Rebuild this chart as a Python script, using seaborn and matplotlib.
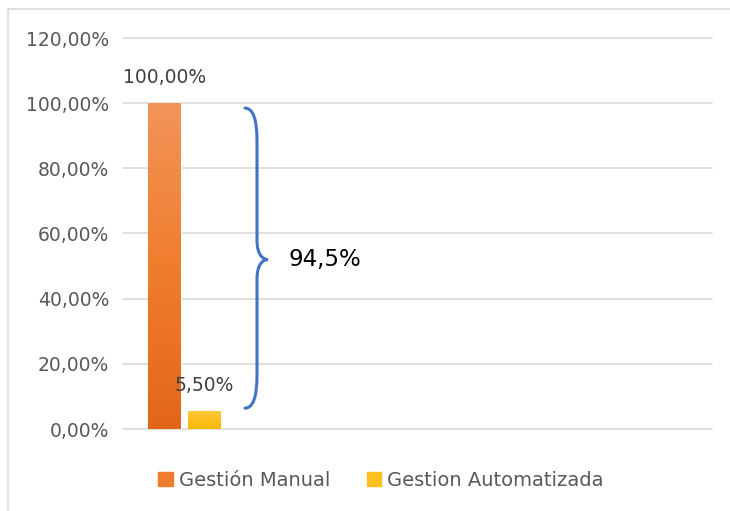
import numpy as np
import pandas as pd
import matplotlib
matplotlib.use("Agg")
import matplotlib.pyplot as plt
from matplotlib.path import Path
from matplotlib.patches import PathPatch
from matplotlib.lines import Line2D
from matplotlib.colors import LinearSegmentedColormap
import seaborn as sns

# ---- data ----
categories = ["Resultado"]
series = ["Gestión Manual", "Gestion Automatizada"]
values = [100.0, 5.5]
value_labels = ["100,00%", "5,50%"]
y_ticks = [0, 20, 40, 60, 80, 100, 120]
y_tick_labels = ["0,00%", "20,00%", "40,00%", "60,00%", "80,00%", "100,00%", "120,00%"]
brace_label = "94,5%"

df = pd.DataFrame({"cat": categories * len(series), "serie": series, "valor": values})

sns.set_theme(style="white")
plt.rcParams["font.family"] = ["DejaVu Sans"]

fig = plt.figure(figsize=(7.3, 5.11), dpi=100)
ax = fig.add_axes([123 / 730, 1 - 429 / 511, (712 - 123) / 730, (429 - 38) / 511])

colors_top = ["#F29459", "#FFC93C"]
colors_bot = ["#E2661A", "#F4B800"]
base_colors = ["#F07D2E", "#FDC021"]

sns.barplot(data=df, x="cat", y="valor", hue="serie", palette=base_colors,
            width=0.8, gap=0.175, ax=ax, legend=False, saturation=1)

ax.set_xlim(-0.615, 5.275)
ax.set_ylim(0, 120)

# gradient overlay on bars
bars = [p for p in ax.patches]
for i, p in enumerate(bars):
    x0, y0 = p.get_x(), p.get_y()
    w, h = p.get_width(), p.get_height()
    cmap = LinearSegmentedColormap.from_list("g", [colors_bot[i], base_colors[i], colors_top[i]])
    grad = np.linspace(0, 1, 256).reshape(-1, 1)
    im = ax.imshow(grad, extent=[x0, x0 + w, y0, y0 + h], origin="lower",
                   cmap=cmap, aspect="auto", zorder=p.get_zorder() + 0.1)
    im.set_clip_path(p)
    ax.text(x0 + w / 2, y0 + h + 8, value_labels[i], ha="center", va="center",
            fontsize=13.5, color="#404040", zorder=5)

ax.set_aspect("auto")
ax.set_xlim(-0.615, 5.275)
ax.set_ylim(0, 120)

ax.set_yticks(y_ticks)
ax.set_yticklabels(y_tick_labels, fontsize=13.5, color="#595959")
ax.set_xticks([])
ax.set_xlabel("")
ax.set_ylabel("")
ax.tick_params(axis="y", length=0, pad=10)
ax.grid(axis="y", color="#D9D9D9", linewidth=1.2)
for gl in ax.get_ygridlines():
    gl.set_clip_on(False)
ax.set_axisbelow(True)
for s in ax.spines.values():
    s.set_visible(False)

# brace annotation
xa, xm, xt = 0.605, 0.725, 0.835
ytop, ybot, ymid = 98.5, 6.4, 52.0
verts = [
    (xa, ytop),
    (xm, ytop), (xm, ytop - 10),
    (xm, ymid + 6),
    (xm, ymid + 1), (xt - 0.04, ymid), (xt, ymid),
    (xt - 0.04, ymid), (xm, ymid - 1), (xm, ymid - 6),
    (xm, ybot + 10),
    (xm, ybot), (xa, ybot),
]
codes = [Path.MOVETO,
         Path.CURVE3, Path.CURVE3,
         Path.LINETO,
         Path.CURVE4, Path.CURVE4, Path.CURVE4,
         Path.CURVE4, Path.CURVE4, Path.CURVE4,
         Path.LINETO,
         Path.CURVE3, Path.CURVE3]
ax.add_patch(PathPatch(Path(verts, codes), facecolor="none", edgecolor="#4472C4",
                       linewidth=2.2, capstyle="round", zorder=6))
ax.text(1.035, ymid, brace_label, ha="left", va="center", fontsize=16.5, color="#000000")

# legend
handles = [plt.Rectangle((0, 0), 1, 1, color=base_colors[i]) for i in range(len(series))]
fig.legend(handles, series, loc="center", bbox_to_anchor=(381 / 730, 1 - 480 / 511),
           ncol=2, frameon=False, fontsize=14, handlelength=0.75, handleheight=0.7,
           handletextpad=0.3, columnspacing=1.9, labelcolor="#595959")

# chart border (cropped)
fig.add_artist(Line2D([8 / 730, 8 / 730], [0, 1 - 9 / 511], color="#D9D9D9", lw=1.2))
fig.add_artist(Line2D([8 / 730, 1], [1 - 9 / 511, 1 - 9 / 511], color="#D9D9D9", lw=1.2))

fig.savefig("out.png", dpi=100)
